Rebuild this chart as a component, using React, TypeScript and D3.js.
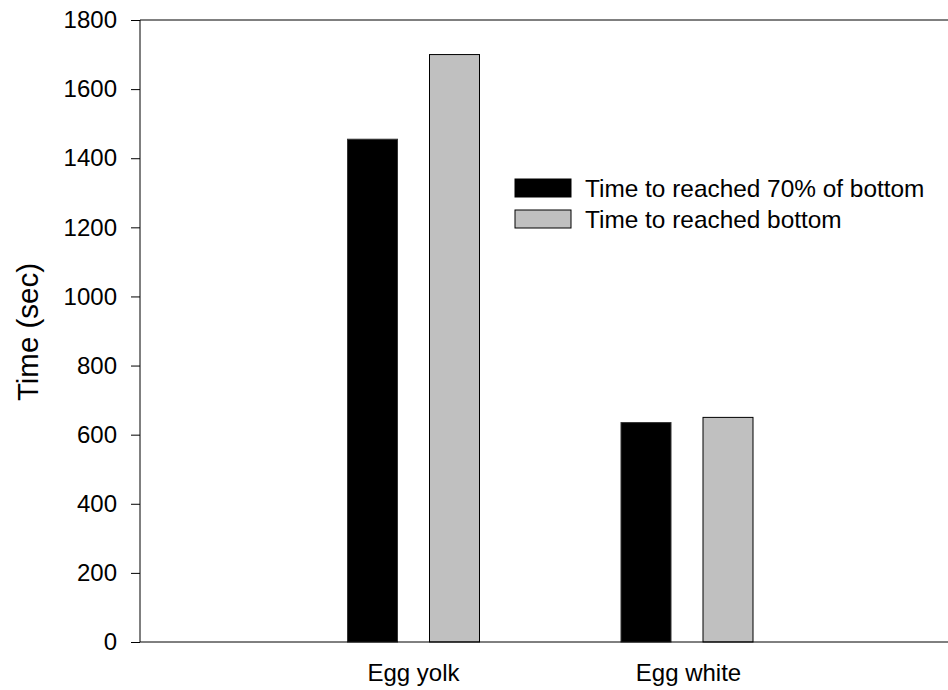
import React, {useRef, useEffect} from "react";
import * as d3 from "d3";

const categories = ["Egg yolk", "Egg white"];
const series = ["Time to reached 70% of bottom", "Time to reached bottom"];
const seriesColors = ["#000000", "#c0c0c0"];
// values[category][series]
const values = [
  [1455, 1700],
  [635, 650],
];
const yTicks = [0, 200, 400, 600, 800, 1000, 1200, 1400, 1600, 1800];

const W = 948;
const H = 690;
const font = "'Liberation Sans', Arial, sans-serif";

const App = () => {
  const svgRef = useRef(null);

  useEffect(() => {
    const svg = d3.select(svgRef.current);
    svg.selectAll("*").remove();

    const left = 140;
    const top = 20;
    const bottom = 642;

    const y = d3.scaleLinear().domain([0, 1800]).range([bottom, top]);
    // category slots at 1, 2; axis runs past the right edge
    const x = d3.scaleLinear().domain([0, 3]).range([left, left + 3 * 273.5]);
    const barW = 50;
    const offsets = [-41, 41];

    // bars
    const g = svg.append("g");
    values.forEach((row, ci) => {
      row.forEach((v, si) => {
        g.append("rect")
          .attr("x", x(ci + 1) + offsets[si] - barW / 2)
          .attr("y", y(v))
          .attr("width", barW)
          .attr("height", y(0) - y(v))
          .attr("fill", seriesColors[si])
          .attr("stroke", si === 0 ? "#333" : "#000")
          .attr("stroke-width", 1);
      });
    });

    // y axis
    const yAxis = d3.axisLeft(y).tickValues(yTicks).tickSize(9).tickPadding(14).tickFormat(d3.format("d"));
    svg
      .append("g")
      .attr("transform", `translate(${left},0)`)
      .call(yAxis)
      .call((s) => s.select(".domain").attr("d", `M0,${top}V${bottom}`))
      .call((s) =>
        s.selectAll("text").attr("font-size", 24).attr("font-family", font).attr("fill", "#000")
      );

    // bottom and top frame lines
    svg.append("line").attr("x1", left).attr("x2", W).attr("y1", bottom).attr("y2", bottom).attr("stroke", "#000");
    svg.append("line").attr("x1", left).attr("x2", W).attr("y1", top).attr("y2", top).attr("stroke", "#000");

    // category labels
    svg
      .append("g")
      .selectAll("text")
      .data(categories)
      .enter()
      .append("text")
      .attr("x", (d, i) => x(i + 1) + (i === 1 ? 1.5 : 0))
      .attr("y", 681)
      .attr("text-anchor", "middle")
      .attr("font-size", 24)
      .attr("font-family", font)
      .text((d) => d);

    // y title
    svg
      .append("text")
      .attr("transform", `translate(38,332) rotate(-90)`)
      .attr("text-anchor", "middle")
      .attr("font-size", 29.5)
      .attr("font-family", font)
      .text("Time (sec)");

    // legend
    const lg = svg.append("g");
    series.forEach((s, i) => {
      const ly = 179 + i * 31;
      lg.append("rect")
        .attr("x", 515)
        .attr("y", ly)
        .attr("width", 56)
        .attr("height", 18)
        .attr("fill", seriesColors[i])
        .attr("stroke", "#000");
      lg.append("text")
        .attr("x", 585)
        .attr("y", ly + 18)
        .attr("font-size", 24.4)
        .attr("font-family", font)
        .text(s);
    });
  }, []);

  return (
    <div style={{position: "absolute", left: 0, top: 0}}>
      <svg ref={svgRef} width={W} height={H} style={{display: "block", background: "#fff"}}></svg>
    </div>
  );
};

export default App;
